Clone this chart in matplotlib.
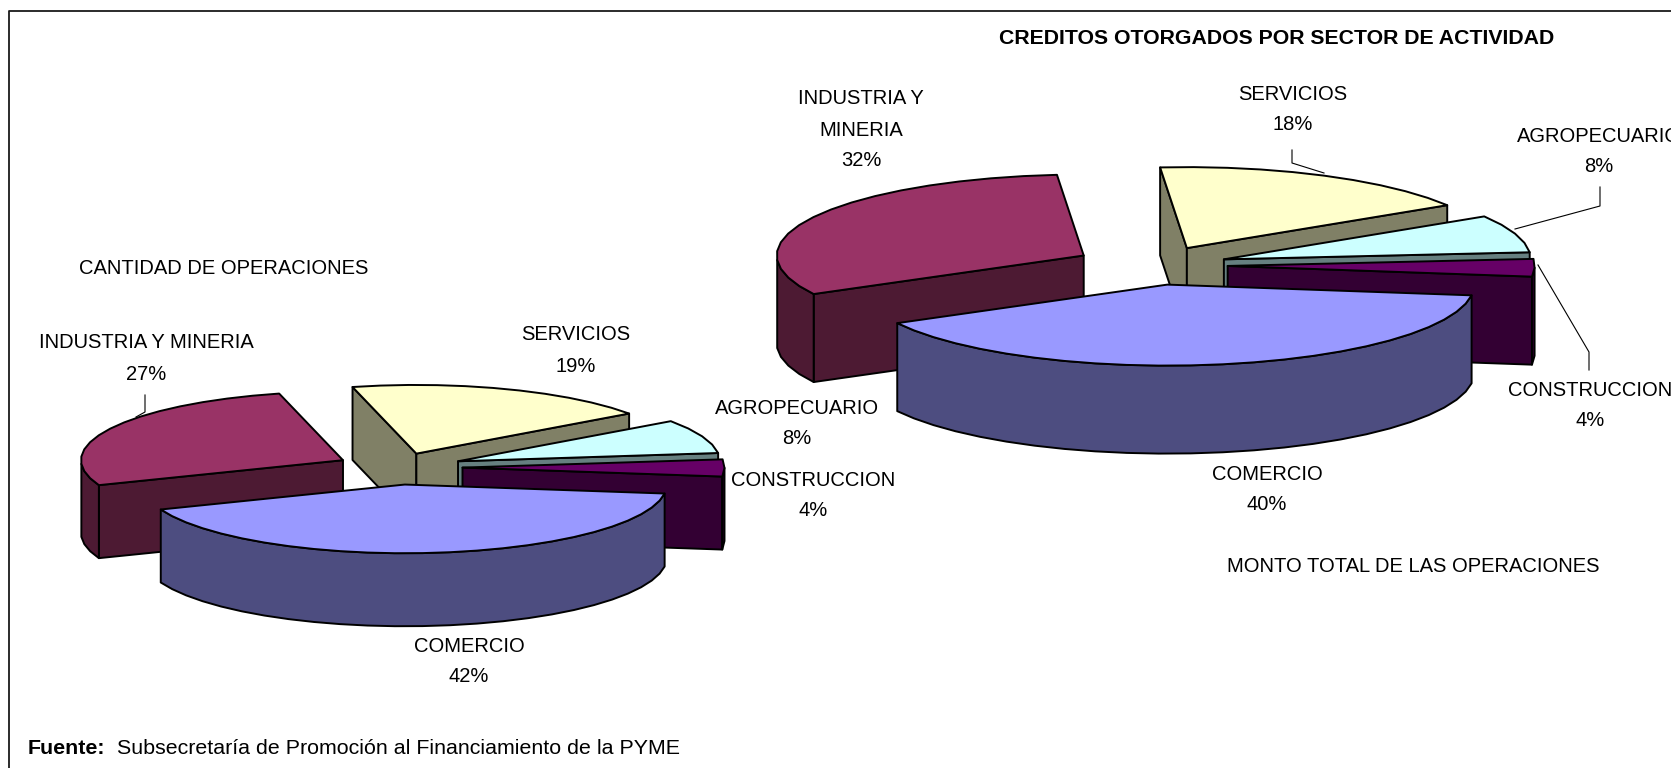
import numpy as np
import matplotlib
matplotlib.use('Agg')
import matplotlib.pyplot as plt
from matplotlib.patches import Polygon

plt.rcParams['font.family'] = ['Liberation Sans', 'DejaVu Sans']

# Data, in drawing order clockwise from the first slice
sectors = ['SERVICIOS', 'AGROPECUARIO', 'CONSTRUCCION', 'COMERCIO', 'INDUSTRIA Y MINERIA']
cantidad = [19, 8, 4, 42, 27]
monto = [17.5, 7.5, 3.5, 40, 31.5]

top_colors = ['#FFFFCC', '#CCFFFF', '#660066', '#9999FF', '#993366']
side_colors = ['#808066', '#668080', '#330033', '#4D4D80', '#4D1A33']

# how far each slice is pulled out of its pie
explode_cantidad = [0.215, 0.25, 0.25, 0.25, 0.232]
explode_monto = [0.24, 0.24, 0.24, 0.24, 0.26]

# back to front
draw_order = [4, 0, 1, 2, 3]


def draw_face(ax, pts, color, z):
    ax.add_patch(Polygon(pts, closed=True, facecolor=color, edgecolor='black',
                         linewidth=1.4, joinstyle='round', zorder=z))


def draw_pie(ax, values, cx, cy, rx, ry, depth, explode, start):
    # exploded 3D pie, projected by hand since matplotlib has none
    fracs = np.array(values) / np.sum(values) * 360
    ends = start - np.cumsum(fracs)
    starts = ends + fracs
    z = 2
    for i in draw_order:
        a0, a1 = starts[i], ends[i]
        mid = np.radians((a0 + a1) / 2)
        ox = cx + explode[i] * rx * np.cos(mid)
        oy = cy - explode[i] * ry * np.sin(mid)

        n = max(int((a0 - a1) / 6), 2)
        ang = np.radians(np.linspace(a0, a1, n + 1))
        xs = ox + rx * np.cos(ang)
        ys = oy - ry * np.sin(ang)

        # radial walls, only those facing the viewer
        if xs[0] < ox:
            draw_face(ax, [(ox, oy), (xs[0], ys[0]), (xs[0], ys[0] + depth), (ox, oy + depth)],
                      side_colors[i], z)
        if xs[-1] > ox:
            draw_face(ax, [(ox, oy), (xs[-1], ys[-1]), (xs[-1], ys[-1] + depth), (ox, oy + depth)],
                      side_colors[i], z)

        # outer wall on the near half of the rim
        front = np.sin(ang) <= 0
        if front.sum() > 1:
            fx, fy = xs[front], ys[front]
            pts = list(zip(fx, fy)) + list(zip(fx[::-1], fy[::-1] + depth))
            draw_face(ax, pts, side_colors[i], z)

        draw_face(ax, [(ox, oy)] + list(zip(xs, ys)), top_colors[i], z + 0.5)
        z += 1


def pct(v):
    return f'{v:.0f}%'


fig = plt.figure(figsize=(16.71, 7.68), dpi=100)
ax = fig.add_axes([0, 0, 1, 1])
ax.set_xlim(0, 1671)
ax.set_ylim(768, 0)
ax.axis('off')

# chart frame
ax.plot([9, 9, 1671], [768, 11, 11], color='#1a1a1a', lw=1.3)

draw_pie(ax, cantidad, 397, 467.5, 262, 68.7, 73, explode_cantidad, 104.1)
draw_pie(ax, monto, 1154, 265.5, 307, 81, 88, explode_monto, 95)

# leader lines
leaders = [
    ([145, 145, 136], [395, 412, 417]),
    ([1292, 1292, 1324], [150, 163, 173]),
    ([1600, 1600, 1515], [187, 206, 229]),
    ([1589, 1589, 1538], [370, 352, 265]),
]
for lx, ly in leaders:
    ax.plot(lx, ly, color='black', lw=0.8, zorder=10)


def label(x, y, s, **kw):
    ax.text(x, y + 1, s, ha='center', va='center', fontsize=14.5, color='black', zorder=11, **kw)


# left pie labels
label(146, 342, sectors[4])
label(146, 373, pct(cantidad[4]))
label(575.5, 334, sectors[0])
label(575.5, 365, pct(cantidad[0]))
label(797, 408, sectors[1])
label(797, 438, pct(cantidad[1]))
label(813, 479, sectors[2])
label(813, 509, pct(cantidad[2]))
label(469, 645, sectors[3])
label(469, 676, pct(cantidad[3]))

# right pie labels
label(861, 98, 'INDUSTRIA Y')
label(861, 129, 'MINERIA')
label(861, 160, pct(monto[4]))
label(1293, 93, sectors[0])
label(1293, 124, pct(monto[0]))
label(1599, 135, sectors[1])
label(1599, 165, pct(monto[1]))
label(1590, 389, sectors[2])
label(1590, 420, pct(monto[2]))
label(1267, 473, sectors[3])
label(1267, 503, pct(monto[3]))

# titles
ax.text(1277, 39, 'CREDITOS OTORGADOS POR SECTOR DE ACTIVIDAD', ha='center', va='center',
        fontsize=15.3, fontweight='bold')
label(224, 268, 'CANTIDAD DE OPERACIONES')
label(1413, 565, 'MONTO TOTAL DE LAS OPERACIONES')

# source note
ax.text(28, 748, 'Fuente:', ha='left', va='center', fontsize=15.4, fontweight='bold')
ax.text(117, 748, 'Subsecretaría de Promoción al Financiamiento de la PYME', ha='left', va='center',
        fontsize=15.4)

fig.savefig('out.png', dpi=100)
